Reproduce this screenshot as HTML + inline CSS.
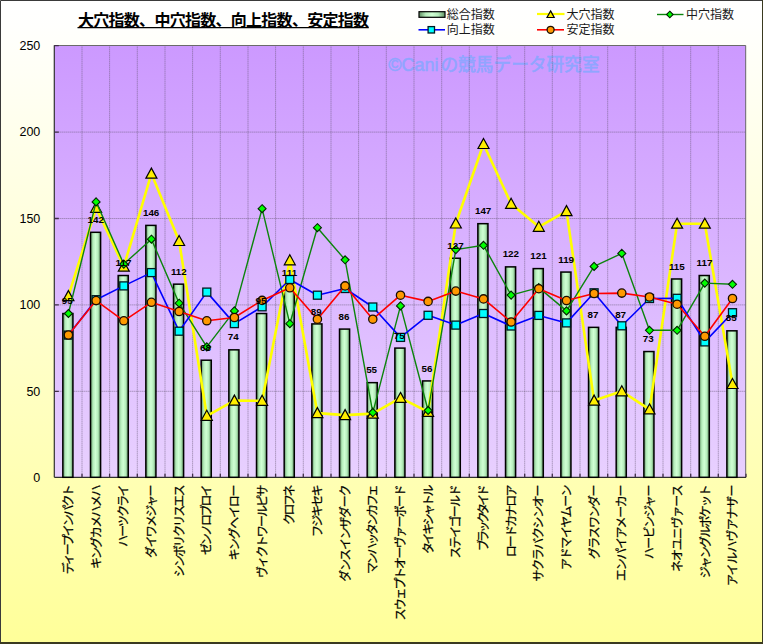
<!DOCTYPE html>
<html lang="ja"><head><meta charset="utf-8"><title>chart</title>
<style>html,body{margin:0;padding:0;background:#fff}body{width:763px;height:644px;overflow:hidden;font-family:"Liberation Sans",sans-serif}</style></head>
<body>
<svg width="763" height="644" viewBox="0 0 763 644" style="display:block;font-family:'Liberation Sans','Noto Sans CJK JP',sans-serif">
<desc>大穴指数、中穴指数、向上指数、安定指数 — 総合指数 / 大穴指数 / 中穴指数 / 向上指数 / 安定指数 — ©Caniの競馬データ研究室 — ディープインパクト、キングカメハメハ、ハーツクライ、ダイワメジャー、シンボリクリスエス、ゼンノロブロイ、キングヘイロー、ヴィクトワールピサ、クロフネ、フジキセキ、ダンスインザダーク、マンハッタンカフェ、スウェプトオーヴァーボード、タイキシャトル、ステイゴールド、ブラックタイド、ロードカナロア、サクラバクシンオー、アドマイヤムーン、グラスワンダー、エンパイアメーカー、ハービンジャー、ネオユニヴァース、ジャングルポケット、アイルハヴアナザー</desc>
<defs>
<linearGradient id="bg" x1="0" y1="0" x2="0" y2="1"><stop offset="0" stop-color="#ffffff"/><stop offset="0.04" stop-color="#fffffd"/><stop offset="1" stop-color="#ffff99"/></linearGradient>
<linearGradient id="pl" x1="0" y1="0" x2="0" y2="1"><stop offset="0" stop-color="#cc99ff"/><stop offset="1" stop-color="#e8d0ff"/></linearGradient>
<linearGradient id="bar" x1="0" y1="0" x2="1" y2="0"><stop offset="0" stop-color="#5f8f62"/><stop offset="0.26" stop-color="#b6edbc"/><stop offset="0.5" stop-color="#d0ffd4"/><stop offset="0.74" stop-color="#b6edbc"/><stop offset="1" stop-color="#5f8f62"/></linearGradient>
<linearGradient id="barv" x1="0" y1="0" x2="0" y2="1"><stop offset="0" stop-color="#5e8c5e"/><stop offset="0.5" stop-color="#ccffcc"/><stop offset="1" stop-color="#5e8c5e"/></linearGradient>
</defs>
<rect x="0" y="0" width="763" height="644" fill="url(#bg)"/>
<rect x="54.3" y="45.3" width="691.7" height="432.0" fill="url(#pl)"/>
<text x="388.3" y="71.4" font-size="18" fill="#90a5ff" stroke="#90a5ff" stroke-width="0.55" style="font-family:'Liberation Sans','Noto Sans CJK JP',sans-serif">©Cani</text>
<text x="440.4" y="71.3" font-size="17.7" fill="#90a5ff" stroke="#90a5ff" stroke-width="0.6" style="font-family:'Liberation Sans','Noto Sans CJK JP',sans-serif">の競馬データ研究室</text>
<path d="M54.3 391.3H746.0M54.3 304.9H746.0M54.3 218.5H746.0M54.3 132.1H746.0M82.0 45.3V477.3M109.6 45.3V477.3M137.3 45.3V477.3M165.0 45.3V477.3M192.6 45.3V477.3M220.3 45.3V477.3M248.0 45.3V477.3M275.6 45.3V477.3M303.3 45.3V477.3M331.0 45.3V477.3M358.6 45.3V477.3M386.3 45.3V477.3M414.0 45.3V477.3M441.7 45.3V477.3M469.3 45.3V477.3M497.0 45.3V477.3M524.7 45.3V477.3M552.3 45.3V477.3M580.0 45.3V477.3M607.7 45.3V477.3M635.3 45.3V477.3M663.0 45.3V477.3M690.7 45.3V477.3M718.3 45.3V477.3" stroke="#5c5068" stroke-width="0.9" stroke-dasharray="1.1 0.9" fill="none" opacity="0.66"/>
<path d="M54.3 45.5H745.7V477.3" stroke="#6a6a6a" stroke-width="1" fill="none"/>
<path d="M54.3 45.3V477.3" stroke="#303030" stroke-width="1.2" fill="none"/>
<path d="M54.3 477.3H746.0" stroke="#303030" stroke-width="1.2" fill="none"/>
<path d="M54.3 391.3h4.5M54.3 304.9h4.5M54.3 218.5h4.5M54.3 132.1h4.5M54.3 45.7h4.5M82.0 477.3v-3.5M109.6 477.3v-3.5M137.3 477.3v-3.5M165.0 477.3v-3.5M192.6 477.3v-3.5M220.3 477.3v-3.5M248.0 477.3v-3.5M275.6 477.3v-3.5M303.3 477.3v-3.5M331.0 477.3v-3.5M358.6 477.3v-3.5M386.3 477.3v-3.5M414.0 477.3v-3.5M441.7 477.3v-3.5M469.3 477.3v-3.5M497.0 477.3v-3.5M524.7 477.3v-3.5M552.3 477.3v-3.5M580.0 477.3v-3.5M607.7 477.3v-3.5M635.3 477.3v-3.5M663.0 477.3v-3.5M690.7 477.3v-3.5M718.3 477.3v-3.5M746.0 477.3v-3.5" stroke="#403048" stroke-width="1.3" fill="none"/>
<rect x="62.83" y="313.54" width="10.10" height="163.76" fill="url(#bar)" stroke="#000" stroke-width="1.5"/>
<rect x="90.50" y="232.32" width="10.10" height="244.98" fill="url(#bar)" stroke="#000" stroke-width="1.5"/>
<rect x="118.17" y="275.52" width="10.10" height="201.78" fill="url(#bar)" stroke="#000" stroke-width="1.5"/>
<rect x="145.84" y="225.41" width="10.10" height="251.89" fill="url(#bar)" stroke="#000" stroke-width="1.5"/>
<rect x="173.51" y="284.16" width="10.10" height="193.14" fill="url(#bar)" stroke="#000" stroke-width="1.5"/>
<rect x="201.17" y="360.20" width="10.10" height="117.10" fill="url(#bar)" stroke="#000" stroke-width="1.5"/>
<rect x="228.84" y="349.83" width="10.10" height="127.47" fill="url(#bar)" stroke="#000" stroke-width="1.5"/>
<rect x="256.51" y="313.54" width="10.10" height="163.76" fill="url(#bar)" stroke="#000" stroke-width="1.5"/>
<rect x="284.18" y="285.89" width="10.10" height="191.41" fill="url(#bar)" stroke="#000" stroke-width="1.5"/>
<rect x="311.85" y="323.91" width="10.10" height="153.39" fill="url(#bar)" stroke="#000" stroke-width="1.5"/>
<rect x="339.51" y="329.09" width="10.10" height="148.21" fill="url(#bar)" stroke="#000" stroke-width="1.5"/>
<rect x="367.18" y="382.66" width="10.10" height="94.64" fill="url(#bar)" stroke="#000" stroke-width="1.5"/>
<rect x="394.85" y="348.10" width="10.10" height="129.20" fill="url(#bar)" stroke="#000" stroke-width="1.5"/>
<rect x="422.52" y="380.93" width="10.10" height="96.37" fill="url(#bar)" stroke="#000" stroke-width="1.5"/>
<rect x="450.19" y="258.24" width="10.10" height="219.06" fill="url(#bar)" stroke="#000" stroke-width="1.5"/>
<rect x="477.85" y="223.68" width="10.10" height="253.62" fill="url(#bar)" stroke="#000" stroke-width="1.5"/>
<rect x="505.52" y="266.88" width="10.10" height="210.42" fill="url(#bar)" stroke="#000" stroke-width="1.5"/>
<rect x="533.19" y="268.61" width="10.10" height="208.69" fill="url(#bar)" stroke="#000" stroke-width="1.5"/>
<rect x="560.86" y="272.07" width="10.10" height="205.23" fill="url(#bar)" stroke="#000" stroke-width="1.5"/>
<rect x="588.53" y="327.36" width="10.10" height="149.94" fill="url(#bar)" stroke="#000" stroke-width="1.5"/>
<rect x="616.19" y="327.36" width="10.10" height="149.94" fill="url(#bar)" stroke="#000" stroke-width="1.5"/>
<rect x="643.86" y="351.56" width="10.10" height="125.74" fill="url(#bar)" stroke="#000" stroke-width="1.5"/>
<rect x="671.53" y="278.98" width="10.10" height="198.32" fill="url(#bar)" stroke="#000" stroke-width="1.5"/>
<rect x="699.20" y="275.52" width="10.10" height="201.78" fill="url(#bar)" stroke="#000" stroke-width="1.5"/>
<rect x="726.87" y="330.82" width="10.10" height="146.48" fill="url(#bar)" stroke="#000" stroke-width="1.5"/>
<polyline points="68.4,296.1 96.1,207.8 123.8,266.7 151.4,173.6 179.1,241.0 206.8,415.8 234.4,400.6 262.1,400.8 289.8,260.3 317.4,413.1 345.1,415.1 372.8,413.6 400.5,397.9 428.1,411.9 455.8,223.5 483.5,144.0 511.1,203.8 538.8,226.8 566.5,211.1 594.1,400.6 621.8,391.3 649.5,409.4 677.1,223.7 704.8,223.7 732.5,384.0" fill="none" stroke="#ffff00" stroke-width="2.6" stroke-linejoin="round"/>
<path d="M68.4 290.6L73.9 300.6L62.9 300.6Z" fill="#ffee00" stroke="#000" stroke-width="1.2"/>
<path d="M96.1 202.3L101.6 212.3L90.6 212.3Z" fill="#ffee00" stroke="#000" stroke-width="1.2"/>
<path d="M123.8 261.2L129.3 271.2L118.3 271.2Z" fill="#ffee00" stroke="#000" stroke-width="1.2"/>
<path d="M151.4 168.1L156.9 178.1L145.9 178.1Z" fill="#ffee00" stroke="#000" stroke-width="1.2"/>
<path d="M179.1 235.5L184.6 245.5L173.6 245.5Z" fill="#ffee00" stroke="#000" stroke-width="1.2"/>
<path d="M206.8 410.3L212.3 420.3L201.3 420.3Z" fill="#ffee00" stroke="#000" stroke-width="1.2"/>
<path d="M234.4 395.1L239.9 405.1L228.9 405.1Z" fill="#ffee00" stroke="#000" stroke-width="1.2"/>
<path d="M262.1 395.3L267.6 405.3L256.6 405.3Z" fill="#ffee00" stroke="#000" stroke-width="1.2"/>
<path d="M289.8 254.8L295.3 264.8L284.3 264.8Z" fill="#ffee00" stroke="#000" stroke-width="1.2"/>
<path d="M317.4 407.6L322.9 417.6L311.9 417.6Z" fill="#ffee00" stroke="#000" stroke-width="1.2"/>
<path d="M345.1 409.6L350.6 419.6L339.6 419.6Z" fill="#ffee00" stroke="#000" stroke-width="1.2"/>
<path d="M372.8 408.1L378.3 418.1L367.3 418.1Z" fill="#ffee00" stroke="#000" stroke-width="1.2"/>
<path d="M400.5 392.4L406.0 402.4L395.0 402.4Z" fill="#ffee00" stroke="#000" stroke-width="1.2"/>
<path d="M428.1 406.4L433.6 416.4L422.6 416.4Z" fill="#ffee00" stroke="#000" stroke-width="1.2"/>
<path d="M455.8 218.0L461.3 228.0L450.3 228.0Z" fill="#ffee00" stroke="#000" stroke-width="1.2"/>
<path d="M483.5 138.5L489.0 148.5L478.0 148.5Z" fill="#ffee00" stroke="#000" stroke-width="1.2"/>
<path d="M511.1 198.3L516.6 208.3L505.6 208.3Z" fill="#ffee00" stroke="#000" stroke-width="1.2"/>
<path d="M538.8 221.3L544.3 231.3L533.3 231.3Z" fill="#ffee00" stroke="#000" stroke-width="1.2"/>
<path d="M566.5 205.6L572.0 215.6L561.0 215.6Z" fill="#ffee00" stroke="#000" stroke-width="1.2"/>
<path d="M594.1 395.1L599.6 405.1L588.6 405.1Z" fill="#ffee00" stroke="#000" stroke-width="1.2"/>
<path d="M621.8 385.8L627.3 395.8L616.3 395.8Z" fill="#ffee00" stroke="#000" stroke-width="1.2"/>
<path d="M649.5 403.9L655.0 413.9L644.0 413.9Z" fill="#ffee00" stroke="#000" stroke-width="1.2"/>
<path d="M677.1 218.2L682.6 228.2L671.6 228.2Z" fill="#ffee00" stroke="#000" stroke-width="1.2"/>
<path d="M704.8 218.2L710.3 228.2L699.3 228.2Z" fill="#ffee00" stroke="#000" stroke-width="1.2"/>
<path d="M732.5 378.5L738.0 388.5L727.0 388.5Z" fill="#ffee00" stroke="#000" stroke-width="1.2"/>
<polyline points="68.4,313.5 96.1,201.9 123.8,264.1 151.4,239.2 179.1,303.2 206.8,346.9 234.4,310.9 262.1,208.7 289.8,323.7 317.4,227.7 345.1,259.8 372.8,412.6 400.5,305.9 428.1,410.5 455.8,249.6 483.5,245.3 511.1,295.1 538.8,287.6 566.5,310.9 594.1,266.4 621.8,253.4 649.5,330.3 677.1,330.3 704.8,283.1 732.5,284.3" fill="none" stroke="#0c840c" stroke-width="1.4" stroke-linejoin="round"/>
<path d="M68.4 309.5L72.4 313.5L68.4 317.5L64.4 313.5Z" fill="#00ff00" stroke="#002200" stroke-width="1.1"/>
<path d="M96.1 197.9L100.1 201.9L96.1 205.9L92.1 201.9Z" fill="#00ff00" stroke="#002200" stroke-width="1.1"/>
<path d="M123.8 260.1L127.8 264.1L123.8 268.1L119.8 264.1Z" fill="#00ff00" stroke="#002200" stroke-width="1.1"/>
<path d="M151.4 235.2L155.4 239.2L151.4 243.2L147.4 239.2Z" fill="#00ff00" stroke="#002200" stroke-width="1.1"/>
<path d="M179.1 299.2L183.1 303.2L179.1 307.2L175.1 303.2Z" fill="#00ff00" stroke="#002200" stroke-width="1.1"/>
<path d="M206.8 342.9L210.8 346.9L206.8 350.9L202.8 346.9Z" fill="#00ff00" stroke="#002200" stroke-width="1.1"/>
<path d="M234.4 306.9L238.4 310.9L234.4 314.9L230.4 310.9Z" fill="#00ff00" stroke="#002200" stroke-width="1.1"/>
<path d="M262.1 204.7L266.1 208.7L262.1 212.7L258.1 208.7Z" fill="#00ff00" stroke="#002200" stroke-width="1.1"/>
<path d="M289.8 319.7L293.8 323.7L289.8 327.7L285.8 323.7Z" fill="#00ff00" stroke="#002200" stroke-width="1.1"/>
<path d="M317.4 223.7L321.4 227.7L317.4 231.7L313.4 227.7Z" fill="#00ff00" stroke="#002200" stroke-width="1.1"/>
<path d="M345.1 255.8L349.1 259.8L345.1 263.8L341.1 259.8Z" fill="#00ff00" stroke="#002200" stroke-width="1.1"/>
<path d="M372.8 408.6L376.8 412.6L372.8 416.6L368.8 412.6Z" fill="#00ff00" stroke="#002200" stroke-width="1.1"/>
<path d="M400.5 301.9L404.5 305.9L400.5 309.9L396.5 305.9Z" fill="#00ff00" stroke="#002200" stroke-width="1.1"/>
<path d="M428.1 406.5L432.1 410.5L428.1 414.5L424.1 410.5Z" fill="#00ff00" stroke="#002200" stroke-width="1.1"/>
<path d="M455.8 245.6L459.8 249.6L455.8 253.6L451.8 249.6Z" fill="#00ff00" stroke="#002200" stroke-width="1.1"/>
<path d="M483.5 241.3L487.5 245.3L483.5 249.3L479.5 245.3Z" fill="#00ff00" stroke="#002200" stroke-width="1.1"/>
<path d="M511.1 291.1L515.1 295.1L511.1 299.1L507.1 295.1Z" fill="#00ff00" stroke="#002200" stroke-width="1.1"/>
<path d="M538.8 283.6L542.8 287.6L538.8 291.6L534.8 287.6Z" fill="#00ff00" stroke="#002200" stroke-width="1.1"/>
<path d="M566.5 306.9L570.5 310.9L566.5 314.9L562.5 310.9Z" fill="#00ff00" stroke="#002200" stroke-width="1.1"/>
<path d="M594.1 262.4L598.1 266.4L594.1 270.4L590.1 266.4Z" fill="#00ff00" stroke="#002200" stroke-width="1.1"/>
<path d="M621.8 249.4L625.8 253.4L621.8 257.4L617.8 253.4Z" fill="#00ff00" stroke="#002200" stroke-width="1.1"/>
<path d="M649.5 326.3L653.5 330.3L649.5 334.3L645.5 330.3Z" fill="#00ff00" stroke="#002200" stroke-width="1.1"/>
<path d="M677.1 326.3L681.1 330.3L677.1 334.3L673.1 330.3Z" fill="#00ff00" stroke="#002200" stroke-width="1.1"/>
<path d="M704.8 279.1L708.8 283.1L704.8 287.1L700.8 283.1Z" fill="#00ff00" stroke="#002200" stroke-width="1.1"/>
<path d="M732.5 280.3L736.5 284.3L732.5 288.3L728.5 284.3Z" fill="#00ff00" stroke="#002200" stroke-width="1.1"/>
<polyline points="68.4,335.1 96.1,299.7 123.8,285.9 151.4,272.6 179.1,331.2 206.8,292.1 234.4,323.6 262.1,306.8 289.8,279.5 317.4,295.2 345.1,288.5 372.8,307.0 400.5,337.4 428.1,315.3 455.8,325.1 483.5,313.5 511.1,326.0 538.8,315.4 566.5,322.9 594.1,292.8 621.8,325.8 649.5,298.5 677.1,298.3 704.8,341.9 732.5,312.7" fill="none" stroke="#0000ff" stroke-width="1.6" stroke-linejoin="round"/>
<rect x="64.4" y="331.1" width="8" height="8" fill="#00ffff" stroke="#001a22" stroke-width="1.3"/>
<rect x="92.1" y="295.7" width="8" height="8" fill="#00ffff" stroke="#001a22" stroke-width="1.3"/>
<rect x="119.8" y="281.9" width="8" height="8" fill="#00ffff" stroke="#001a22" stroke-width="1.3"/>
<rect x="147.4" y="268.6" width="8" height="8" fill="#00ffff" stroke="#001a22" stroke-width="1.3"/>
<rect x="175.1" y="327.2" width="8" height="8" fill="#00ffff" stroke="#001a22" stroke-width="1.3"/>
<rect x="202.8" y="288.1" width="8" height="8" fill="#00ffff" stroke="#001a22" stroke-width="1.3"/>
<rect x="230.4" y="319.6" width="8" height="8" fill="#00ffff" stroke="#001a22" stroke-width="1.3"/>
<rect x="258.1" y="302.8" width="8" height="8" fill="#00ffff" stroke="#001a22" stroke-width="1.3"/>
<rect x="285.8" y="275.5" width="8" height="8" fill="#00ffff" stroke="#001a22" stroke-width="1.3"/>
<rect x="313.4" y="291.2" width="8" height="8" fill="#00ffff" stroke="#001a22" stroke-width="1.3"/>
<rect x="341.1" y="284.5" width="8" height="8" fill="#00ffff" stroke="#001a22" stroke-width="1.3"/>
<rect x="368.8" y="303.0" width="8" height="8" fill="#00ffff" stroke="#001a22" stroke-width="1.3"/>
<rect x="396.5" y="333.4" width="8" height="8" fill="#00ffff" stroke="#001a22" stroke-width="1.3"/>
<rect x="424.1" y="311.3" width="8" height="8" fill="#00ffff" stroke="#001a22" stroke-width="1.3"/>
<rect x="451.8" y="321.1" width="8" height="8" fill="#00ffff" stroke="#001a22" stroke-width="1.3"/>
<rect x="479.5" y="309.5" width="8" height="8" fill="#00ffff" stroke="#001a22" stroke-width="1.3"/>
<rect x="507.1" y="322.0" width="8" height="8" fill="#00ffff" stroke="#001a22" stroke-width="1.3"/>
<rect x="534.8" y="311.4" width="8" height="8" fill="#00ffff" stroke="#001a22" stroke-width="1.3"/>
<rect x="562.5" y="318.9" width="8" height="8" fill="#00ffff" stroke="#001a22" stroke-width="1.3"/>
<rect x="590.1" y="288.8" width="8" height="8" fill="#00ffff" stroke="#001a22" stroke-width="1.3"/>
<rect x="617.8" y="321.8" width="8" height="8" fill="#00ffff" stroke="#001a22" stroke-width="1.3"/>
<rect x="645.5" y="294.5" width="8" height="8" fill="#00ffff" stroke="#001a22" stroke-width="1.3"/>
<rect x="673.1" y="294.3" width="8" height="8" fill="#00ffff" stroke="#001a22" stroke-width="1.3"/>
<rect x="700.8" y="337.9" width="8" height="8" fill="#00ffff" stroke="#001a22" stroke-width="1.3"/>
<rect x="728.5" y="308.7" width="8" height="8" fill="#00ffff" stroke="#001a22" stroke-width="1.3"/>
<polyline points="68.4,335.0 96.1,300.6 123.8,320.8 151.4,302.3 179.1,311.5 206.8,320.8 234.4,317.5 262.1,300.4 289.8,287.8 317.4,319.2 345.1,285.9 372.8,319.2 400.5,295.2 428.1,301.4 455.8,291.1 483.5,298.9 511.1,322.0 538.8,288.7 566.5,300.6 594.1,293.5 621.8,293.1 649.5,297.0 677.1,304.2 704.8,336.3 732.5,298.5" fill="none" stroke="#ff0000" stroke-width="1.6" stroke-linejoin="round"/>
<circle cx="68.4" cy="335.0" r="4.15" fill="#ff9900" stroke="#1a0d00" stroke-width="1.3"/>
<circle cx="96.1" cy="300.6" r="4.15" fill="#ff9900" stroke="#1a0d00" stroke-width="1.3"/>
<circle cx="123.8" cy="320.8" r="4.15" fill="#ff9900" stroke="#1a0d00" stroke-width="1.3"/>
<circle cx="151.4" cy="302.3" r="4.15" fill="#ff9900" stroke="#1a0d00" stroke-width="1.3"/>
<circle cx="179.1" cy="311.5" r="4.15" fill="#ff9900" stroke="#1a0d00" stroke-width="1.3"/>
<circle cx="206.8" cy="320.8" r="4.15" fill="#ff9900" stroke="#1a0d00" stroke-width="1.3"/>
<circle cx="234.4" cy="317.5" r="4.15" fill="#ff9900" stroke="#1a0d00" stroke-width="1.3"/>
<circle cx="262.1" cy="300.4" r="4.15" fill="#ff9900" stroke="#1a0d00" stroke-width="1.3"/>
<circle cx="289.8" cy="287.8" r="4.15" fill="#ff9900" stroke="#1a0d00" stroke-width="1.3"/>
<circle cx="317.4" cy="319.2" r="4.15" fill="#ff9900" stroke="#1a0d00" stroke-width="1.3"/>
<circle cx="345.1" cy="285.9" r="4.15" fill="#ff9900" stroke="#1a0d00" stroke-width="1.3"/>
<circle cx="372.8" cy="319.2" r="4.15" fill="#ff9900" stroke="#1a0d00" stroke-width="1.3"/>
<circle cx="400.5" cy="295.2" r="4.15" fill="#ff9900" stroke="#1a0d00" stroke-width="1.3"/>
<circle cx="428.1" cy="301.4" r="4.15" fill="#ff9900" stroke="#1a0d00" stroke-width="1.3"/>
<circle cx="455.8" cy="291.1" r="4.15" fill="#ff9900" stroke="#1a0d00" stroke-width="1.3"/>
<circle cx="483.5" cy="298.9" r="4.15" fill="#ff9900" stroke="#1a0d00" stroke-width="1.3"/>
<circle cx="511.1" cy="322.0" r="4.15" fill="#ff9900" stroke="#1a0d00" stroke-width="1.3"/>
<circle cx="538.8" cy="288.7" r="4.15" fill="#ff9900" stroke="#1a0d00" stroke-width="1.3"/>
<circle cx="566.5" cy="300.6" r="4.15" fill="#ff9900" stroke="#1a0d00" stroke-width="1.3"/>
<circle cx="594.1" cy="293.5" r="4.15" fill="#ff9900" stroke="#1a0d00" stroke-width="1.3"/>
<circle cx="621.8" cy="293.1" r="4.15" fill="#ff9900" stroke="#1a0d00" stroke-width="1.3"/>
<circle cx="649.5" cy="297.0" r="4.15" fill="#ff9900" stroke="#1a0d00" stroke-width="1.3"/>
<circle cx="677.1" cy="304.2" r="4.15" fill="#ff9900" stroke="#1a0d00" stroke-width="1.3"/>
<circle cx="704.8" cy="336.3" r="4.15" fill="#ff9900" stroke="#1a0d00" stroke-width="1.3"/>
<circle cx="732.5" cy="298.5" r="4.15" fill="#ff9900" stroke="#1a0d00" stroke-width="1.3"/>
<g font-size="9.8" font-weight="bold" fill="#000" text-anchor="middle" style="font-family:'Liberation Sans',sans-serif">
<text x="67.23" y="304.14">95</text>
<text x="95.80" y="222.92">142</text>
<text x="123.47" y="266.12">117</text>
<text x="151.14" y="216.01">146</text>
<text x="178.81" y="274.76">112</text>
<text x="205.57" y="350.80">68</text>
<text x="233.24" y="340.43">74</text>
<text x="260.91" y="304.14">95</text>
<text x="289.48" y="276.49">111</text>
<text x="316.25" y="314.51">89</text>
<text x="343.91" y="319.69">86</text>
<text x="371.58" y="373.26">55</text>
<text x="399.25" y="338.70">75</text>
<text x="426.92" y="371.53">56</text>
<text x="455.49" y="248.84">127</text>
<text x="483.15" y="214.28">147</text>
<text x="510.82" y="257.48">122</text>
<text x="538.49" y="259.21">121</text>
<text x="566.16" y="262.67">119</text>
<text x="592.93" y="317.96">87</text>
<text x="620.59" y="317.96">87</text>
<text x="648.26" y="342.16">73</text>
<text x="676.83" y="269.58">115</text>
<text x="704.50" y="266.12">117</text>
<text x="731.27" y="321.42">85</text>
</g>
<g font-size="12.5" fill="#000" text-anchor="end" style="font-family:'Liberation Sans',sans-serif">
<text x="40.3" y="481.9">0</text>
<text x="40.3" y="395.5">50</text>
<text x="40.3" y="309.1">100</text>
<text x="40.3" y="222.7">150</text>
<text x="40.3" y="136.3">200</text>
<text x="40.3" y="49.9">250</text>
</g>
<g font-size="12" fill="#000" stroke="#000" stroke-width="0.25" text-anchor="end" style="font-family:'Liberation Sans','Noto Sans CJK JP',sans-serif">
<text transform="translate(73.13 484.60) rotate(-90)" textLength="89.6" lengthAdjust="spacing">ディープインパクト</text>
<text transform="translate(100.80 484.60) rotate(-90)" textLength="84.5" lengthAdjust="spacing">キングカメハメハ</text>
<text transform="translate(128.47 484.60) rotate(-90)" textLength="62.3" lengthAdjust="spacing">ハーツクライ</text>
<text transform="translate(156.14 484.60) rotate(-90)" textLength="73.3" lengthAdjust="spacing">ダイワメジャー</text>
<text transform="translate(183.81 484.60) rotate(-90)" textLength="92.5" lengthAdjust="spacing">シンボリクリスエス</text>
<text transform="translate(211.47 484.60) rotate(-90)" textLength="70.4" lengthAdjust="spacing">ゼンノロブロイ</text>
<text transform="translate(239.14 484.60) rotate(-90)" textLength="75.9" lengthAdjust="spacing">キングヘイロー</text>
<text transform="translate(266.81 484.60) rotate(-90)" textLength="93.3" lengthAdjust="spacing">ヴィクトワールピサ</text>
<text transform="translate(294.48 484.60) rotate(-90)" textLength="40.3" lengthAdjust="spacing">クロフネ</text>
<text transform="translate(322.15 484.60) rotate(-90)" textLength="52.3" lengthAdjust="spacing">フジキセキ</text>
<text transform="translate(349.81 484.60) rotate(-90)" textLength="97.2" lengthAdjust="spacing">ダンスインザダーク</text>
<text transform="translate(377.48 484.60) rotate(-90)" textLength="89.5" lengthAdjust="spacing">マンハッタンカフェ</text>
<text transform="translate(405.15 484.60) rotate(-90)" textLength="135.9" lengthAdjust="spacing">スウェプトオーヴァーボード</text>
<text transform="translate(432.82 484.60) rotate(-90)" textLength="69.4" lengthAdjust="spacing">タイキシャトル</text>
<text transform="translate(460.49 484.60) rotate(-90)" textLength="73.9" lengthAdjust="spacing">ステイゴールド</text>
<text transform="translate(488.15 484.60) rotate(-90)" textLength="66.5" lengthAdjust="spacing">ブラックタイド</text>
<text transform="translate(515.82 484.60) rotate(-90)" textLength="72.7" lengthAdjust="spacing">ロードカナロア</text>
<text transform="translate(543.49 484.60) rotate(-90)" textLength="96.8" lengthAdjust="spacing">サクラバクシンオー</text>
<text transform="translate(571.16 484.60) rotate(-90)" textLength="85.5" lengthAdjust="spacing">アドマイヤムーン</text>
<text transform="translate(598.83 484.60) rotate(-90)" textLength="74.6" lengthAdjust="spacing">グラスワンダー</text>
<text transform="translate(626.49 484.60) rotate(-90)" textLength="96.3" lengthAdjust="spacing">エンパイアメーカー</text>
<text transform="translate(654.16 484.60) rotate(-90)" textLength="74.7" lengthAdjust="spacing">ハービンジャー</text>
<text transform="translate(681.83 484.60) rotate(-90)" textLength="87.3" lengthAdjust="spacing">ネオユニヴァース</text>
<text transform="translate(709.50 484.60) rotate(-90)" textLength="93.7" lengthAdjust="spacing">ジャングルポケット</text>
<text transform="translate(737.17 484.60) rotate(-90)" textLength="101.5" lengthAdjust="spacing">アイルハヴアナザー</text>
</g>
<text x="78" y="26" font-size="16" font-weight="bold" fill="#000" textLength="291" lengthAdjust="spacing" style="font-family:'Liberation Sans','Noto Sans CJK JP',sans-serif">大穴指数、中穴指数、向上指数、安定指数</text>
<path d="M77.5 27.6H368.8" stroke="#000" stroke-width="1.2"/>
<rect x="419.0" y="11.7" width="26" height="5.6" fill="url(#bar)" stroke="#000" stroke-width="1.2"/>
<text x="446.7" y="18.9" font-size="12" fill="#1a1a1a" style="font-family:'Liberation Sans','Noto Sans CJK JP',sans-serif">総合指数</text>
<path d="M537.0 14.0h27.5" stroke="#ffff00" stroke-width="2.2"/>
<path d="M550.6 10.9L554.2 17.5L547.0 17.5Z" fill="#ffee00" stroke="#000" stroke-width="1.2"/>
<text x="566.5" y="18.9" font-size="12" fill="#1a1a1a" style="font-family:'Liberation Sans','Noto Sans CJK JP',sans-serif">大穴指数</text>
<path d="M657.0 14.5h26.5" stroke="#0c840c" stroke-width="1.4"/>
<path d="M669.8 11.2l3.3 3.3l-3.3 3.3l-3.3 -3.3Z" fill="#00ff00" stroke="#002200" stroke-width="1.1"/>
<text x="686" y="18.9" font-size="12" fill="#1a1a1a" style="font-family:'Liberation Sans','Noto Sans CJK JP',sans-serif">中穴指数</text>
<path d="M418.5 29.8h26.5" stroke="#0000ff" stroke-width="1.6"/>
<rect x="428.1" y="26.6" width="6.4" height="6.4" fill="#00ffff" stroke="#001a22" stroke-width="1.3"/>
<text x="446.7" y="34.2" font-size="12" fill="#1a1a1a" style="font-family:'Liberation Sans','Noto Sans CJK JP',sans-serif">向上指数</text>
<path d="M537.0 29.8h27" stroke="#ff0000" stroke-width="1.6"/>
<circle cx="550.6" cy="29.8" r="3.5" fill="#ff9900" stroke="#1a0d00" stroke-width="1.3"/>
<text x="566.5" y="34.2" font-size="12" fill="#1a1a1a" style="font-family:'Liberation Sans','Noto Sans CJK JP',sans-serif">安定指数</text>
<path d="M0.5 644V0.5H763" stroke="#3a3a3a" stroke-width="1" fill="none"/>
<path d="M762.5 0V644" stroke="#3a3a20" stroke-width="1" fill="none"/>
<path d="M0 643H763" stroke="#3a3a20" stroke-width="2" fill="none"/>
</svg>
</body></html>
